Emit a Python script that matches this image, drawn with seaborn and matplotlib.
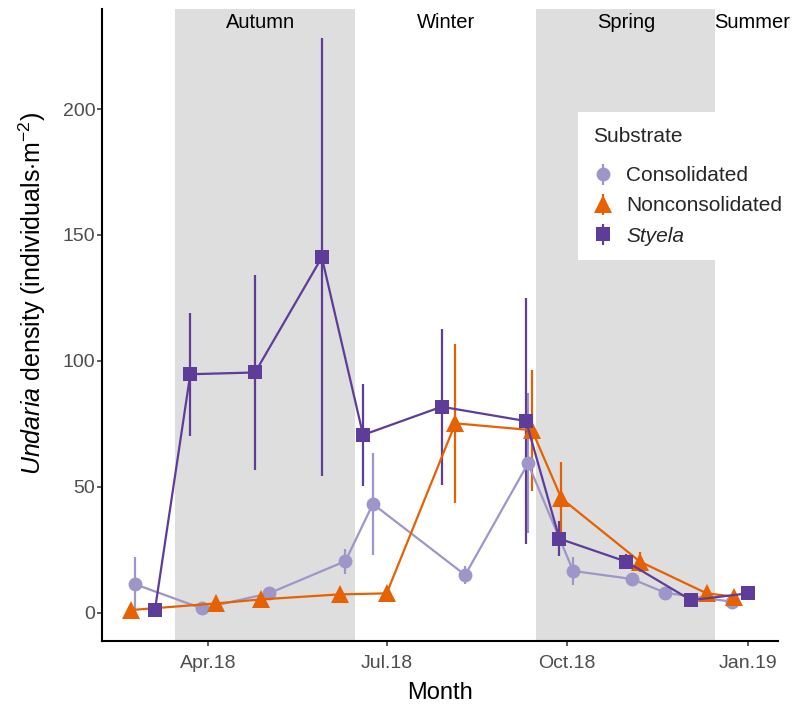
import numpy as np
import pandas as pd
import matplotlib
matplotlib.use("Agg")
import matplotlib.pyplot as plt
import matplotlib.dates as mdates
from matplotlib.lines import Line2D
from matplotlib.legend_handler import HandlerTuple
import seaborn as sns

# ---------------- data ----------------
substrates = ["Consolidated", "Nonconsolidated", "Styela"]

cons_dates = ["2018-02-23", "2018-03-29", "2018-05-02", "2018-06-10", "2018-06-24",
              "2018-08-10", "2018-09-11", "2018-10-04", "2018-11-03", "2018-11-20",
              "2018-12-24"]
cons_density = [11.3, 1.7, 7.7, 20.5, 43.2, 15.0, 59.3, 16.6, 13.4, 7.9, 4.4]
cons_se = [10.7, 0.5, 1.0, 5.0, 20.4, 3.5, 27.8, 5.6, 2.0, 1.0, 1.0]

noncons_dates = ["2018-02-21", "2018-04-05", "2018-04-28", "2018-06-07", "2018-07-01",
                 "2018-08-05", "2018-09-13", "2018-09-28", "2018-11-07", "2018-12-11",
                 "2018-12-25"]
noncons_density = [1.1, 3.7, 5.3, 7.3, 7.7, 75.2, 72.5, 45.4, 20.3, 7.7, 6.4]
noncons_se = [0.3, 0.5, 1.0, 0.5, 0.5, 31.7, 24.0, 14.3, 4.0, 1.0, 1.0]

styela_dates = ["2018-03-05", "2018-03-23", "2018-04-25", "2018-05-29", "2018-06-19",
                "2018-07-29", "2018-09-10", "2018-09-27", "2018-10-31", "2018-12-03",
                "2019-01-01"]
styela_density = [1.1, 94.7, 95.4, 141.1, 70.6, 81.8, 76.1, 29.4, 20.3, 5.0, 7.7]
styela_se = [0.5, 24.4, 38.8, 87.0, 20.4, 31.0, 48.7, 7.0, 3.0, 1.0, 1.0]

season_names = ["Autumn", "Winter", "Spring", "Summer"]
season_label_dates = ["2018-04-28", "2018-07-31", "2018-10-31", "2019-01-03"]
shade_start = ["2018-03-15", "2018-09-15"]
shade_end = ["2018-06-15", "2018-12-15"]

x_ticks = ["2018-04-01", "2018-07-01", "2018-10-01", "2019-01-01"]
y_ticks = [0, 50, 100, 150, 200]

# ---------------- table ----------------
frames = []
for name, d, v, e in [("Consolidated", cons_dates, cons_density, cons_se),
                      ("Nonconsolidated", noncons_dates, noncons_density, noncons_se),
                      ("Styela", styela_dates, styela_density, styela_se)]:
    frames.append(pd.DataFrame({"date": pd.to_datetime(d), "density": v,
                                "se": e, "substrate": name}))
df = pd.concat(frames, ignore_index=True)

palette = {"Consolidated": "#9E96C9", "Nonconsolidated": "#E66101", "Styela": "#5E3C99"}
markers = {"Consolidated": "o", "Nonconsolidated": "^", "Styela": "s"}
msizes = {"o": 10, "^": 12.5, "s": 10.3}

# ---------------- style ----------------
sns.set_theme(style="ticks")
plt.rcParams["font.family"] = ["Liberation Sans", "DejaVu Sans"]
plt.rcParams["mathtext.fontset"] = "custom"
plt.rcParams["mathtext.rm"] = "Liberation Sans"
plt.rcParams["mathtext.it"] = "Liberation Sans:italic"

fig = plt.figure(figsize=(7.95, 7.09), dpi=100)
ax = fig.add_axes([0.1287, 0.0963, 0.8499, 0.8910])

for s, e in zip(shade_start, shade_end):
    ax.axvspan(pd.Timestamp(s), pd.Timestamp(e), color="#DEDEDE", lw=0, zorder=0)

err_handles = {}
for name in substrates:
    sub = df[df["substrate"] == name]
    err_handles[name] = ax.errorbar(sub["date"], sub["density"], yerr=sub["se"],
                                    fmt="none", ecolor=palette[name],
                                    elinewidth=1.6, capsize=0, zorder=2)

sns.lineplot(data=df, x="date", y="density", hue="substrate", style="substrate",
             hue_order=substrates, style_order=substrates,
             palette=palette, markers=markers, dashes=False, estimator=None,
             linewidth=1.6, markersize=10, mew=0, legend=False, ax=ax, zorder=3)
for ln in ax.lines:
    m = ln.get_marker()
    if m in msizes:
        ln.set_markersize(msizes[m])

ax.set_xlim(pd.Timestamp("2018-02-06 05:00"), pd.Timestamp("2019-01-16 07:00"))
ax.set_ylim(-11.1, 239.7)
ax.set_xticks(pd.to_datetime(x_ticks))
ax.xaxis.set_major_formatter(mdates.DateFormatter("%b.%y"))
ax.set_yticks(y_ticks)

sns.despine(ax=ax)
for sp in ["left", "bottom"]:
    ax.spines[sp].set_linewidth(1.5)
    ax.spines[sp].set_color("black")
ax.tick_params(axis="both", length=3.6, width=1.1, color="#333333",
               labelcolor="#4D4D4D", labelsize=14)
ax.tick_params(axis="x", pad=7)
ax.tick_params(axis="y", pad=1.5)

ax.set_xlabel("Month", fontsize=17, color="black", labelpad=7)
ax.set_ylabel(r"$\it{Undaria}$ density (individuals$\cdot$m$^{-2}$)",
              fontsize=18, color="black")
ax.yaxis.set_label_coords(-0.08, 0.55)

for name, d in zip(season_names, season_label_dates):
    ax.text(pd.Timestamp(d), 0.979, name, transform=ax.get_xaxis_transform(),
            ha="center", va="center", fontsize=14.5, color="black")

handles = []
for name in substrates:
    mk = markers[name]
    handles.append((err_handles[name],
                    Line2D([], [], marker=mk, color=palette[name], ls="none",
                           markersize=msizes[mk], mew=0)))
leg = ax.legend(handles, substrates, title="Substrate", loc="upper left",
                bbox_to_anchor=(578 / 795, 1 - 112 / 709),
                bbox_transform=fig.transFigure, frameon=True, facecolor="white",
                edgecolor="none", framealpha=1, fancybox=False, fontsize=15,
                title_fontsize=15, handler_map={tuple: HandlerTuple(ndivide=1, pad=0)},
                handlelength=1.0, handletextpad=0.6, borderpad=0.7,
                labelspacing=0.53, borderaxespad=0, alignment="left")
leg._legend_box.sep = 15
leg.get_texts()[2].set_fontstyle("italic")
leg.set_zorder(10)

fig.savefig("out.png", dpi=100)
